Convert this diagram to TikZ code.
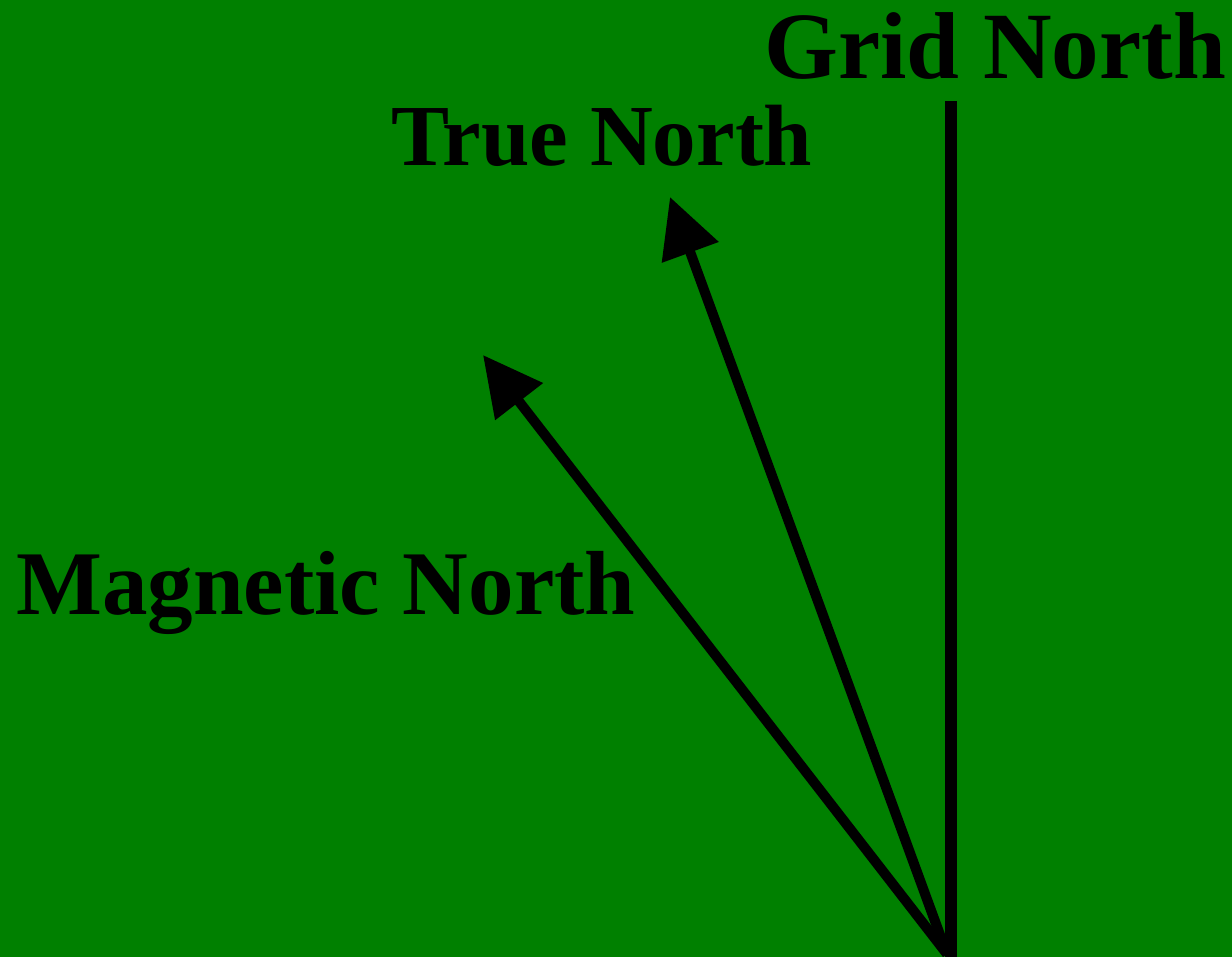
\documentclass[tikz,border=0pt]{standalone}
\usepackage{fontspec}
\setmainfont{Liberation Serif}
\usetikzlibrary{arrows.meta}
\definecolor{bggreen}{RGB}{0,128,0}
\begin{document}
\begin{tikzpicture}[x=1pt,y=-1pt,
  lbl/.style={inner sep=0pt,anchor=base west},
  northarrow/.style={line width=10pt,-{Triangle[length=59pt,width=58pt]}}]
\fill[bggreen] (0,0) rectangle (1232,957);
\useasboundingbox (0,0) rectangle (1232,957);
\node[lbl,font=\fontsize{95}{100}\selectfont\bfseries] (grid) at (764,79) {Grid North};
\node[lbl,font=\fontsize{87}{92}\selectfont\bfseries] (true) at (391,166) {True North};
\node[lbl,font=\fontsize{91}{96}\selectfont\bfseries] (mag) at (16,614) {Magnetic North};
\coordinate (gtop) at (951,101);
\coordinate (gbot) at (951,957);
\coordinate (origin) at (947,954);
\coordinate (ttip) at (670,197);
\coordinate (mtip) at (483,355);
\draw[line width=12pt] (gbot) -- (gtop);
\draw[northarrow] (origin) -- (ttip);
\draw[northarrow] (origin) -- (mtip);
\end{tikzpicture}
\end{document}
